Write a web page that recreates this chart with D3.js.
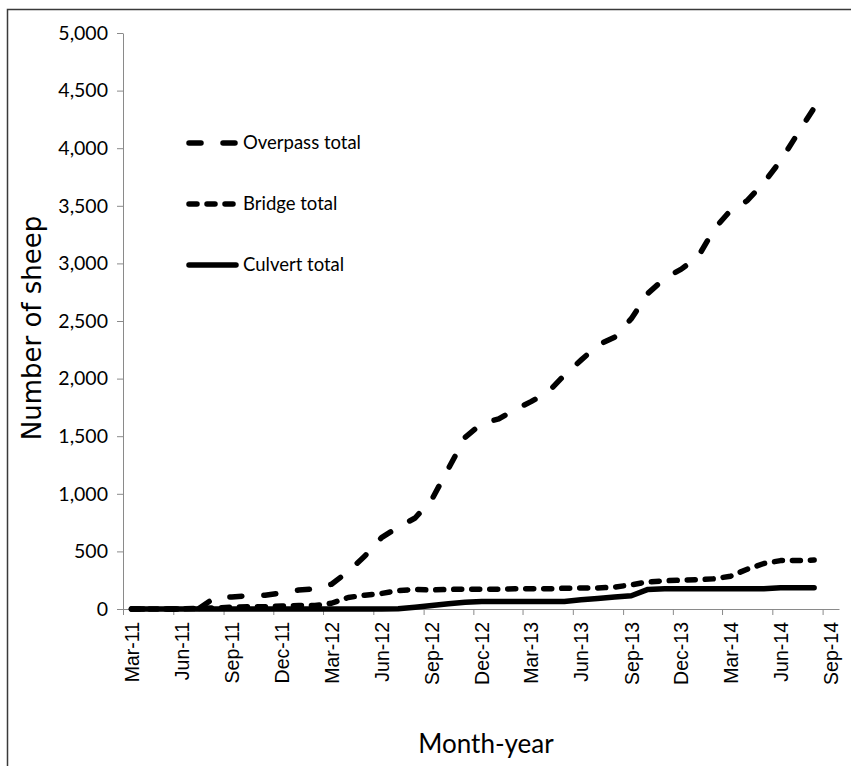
<!DOCTYPE html>
<html>
  <head>
    <meta charset="UTF-8">
    <title>Sheep crossings</title>
    <style>
      body {margin: 0; background: #fff}
      svg {display: block}
      .tick line {stroke: #8a8a8a}
      .domain {stroke: #8a8a8a}
    </style>
  </head>
  <body>
    <div id="chart"></div>
    <script src="https://cdnjs.cloudflare.com/ajax/libs/d3/7.8.5/d3.min.js"></script>
    <script>
      // monthly cumulative totals, Mar-11 .. Aug-14
      const months = [
        "Mar-11","Apr-11","May-11","Jun-11","Jul-11","Aug-11","Sep-11","Oct-11","Nov-11","Dec-11",
        "Jan-12","Feb-12","Mar-12","Apr-12","May-12","Jun-12","Jul-12","Aug-12","Sep-12","Oct-12","Nov-12","Dec-12",
        "Jan-13","Feb-13","Mar-13","Apr-13","May-13","Jun-13","Jul-13","Aug-13","Sep-13","Oct-13","Nov-13","Dec-13",
        "Jan-14","Feb-14","Mar-14","Apr-14","May-14","Jun-14","Jul-14","Aug-14"
      ];
      const overpass = [0,0,0,0,0,100,105,115,120,140,165,175,215,325,460,620,710,790,950,1220,1490,1610,1650,1730,1800,1880,2030,2160,2290,2360,2520,2740,2870,2950,3060,3300,3460,3545,3700,3890,4120,4350];
      const bridge = [0,0,0,0,5,10,15,20,20,25,30,30,50,100,120,135,160,170,165,170,172,172,172,175,175,175,180,182,183,190,210,235,245,250,255,262,285,345,395,420,420,425];
      const culvert = [0,0,0,0,0,0,0,0,0,0,0,0,0,0,0,0,2,15,30,45,58,65,66,66,66,66,66,80,92,105,115,170,175,175,175,175,175,175,175,185,185,185];
      const tickLabels = ["Mar-11","Jun-11","Sep-11","Dec-11","Mar-12","Jun-12","Sep-12","Dec-12","Mar-13","Jun-13","Sep-13","Dec-13","Mar-14","Jun-14","Sep-14"];
      const seriesNames = ["Overpass total", "Bridge total", "Culvert total"];
      const yTicks = [0,500,1000,1500,2000,2500,3000,3500,4000,4500,5000];

      const width = 851, height = 766;
      const parseMonth = d3.timeParse("%b-%y");

      const svg = d3.select("#chart").append("svg")
        .attr("width", width).attr("height", height);

      // frame (left + top only)
      svg.append("path")
        .attr("d", `M7.5,${height} V9.5 H${width}`)
        .attr("fill", "none").attr("stroke", "#3a3a3a").attr("stroke-width", 1.5);

      const x = d3.scaleTime()
        .domain([parseMonth("Mar-11"), parseMonth("Oct-14")])
        .range([123, 839]);
      const y = d3.scaleLinear().domain([0, 5000]).range([609, 33]);

      // points sit in the middle of their month
      const midMonth = s => {
        const d = parseMonth(s);
        return new Date((+d + +d3.timeMonth.offset(d, 1)) / 2);
      };

      const xAxis = d3.axisBottom(x)
        .tickValues(tickLabels.map(parseMonth))
        .tickFormat((d, i) => tickLabels[i])
        .tickSizeOuter(0).tickSizeInner(6);

      const gx = svg.append("g").attr("transform", `translate(0,${y(0)})`).call(xAxis);
      gx.selectAll("text")
        .attr("font-family", "'Liberation Sans', Arial, sans-serif")
        .attr("font-size", 19.5)
        .attr("fill", "#000")
        .attr("text-anchor", "end")
        .attr("transform", "rotate(-90)")
        .attr("x", -13).attr("y", 15).attr("dy", null);

      const yAxis = d3.axisLeft(y).tickValues(yTicks).tickFormat(d3.format(","))
        .tickSizeOuter(0).tickSizeInner(6).tickPadding(9);
      const gy = svg.append("g").attr("transform", `translate(${x.range()[0]},0)`).call(yAxis);
      gy.selectAll("text")
        .attr("font-family", "Lato, sans-serif")
        .attr("font-size", 19.5)
        .attr("fill", "#000");

      // series
      const series = [
        {name: seriesNames[0], values: overpass, dash: "12,22"},
        {name: seriesNames[1], values: bridge, dash: "8,10"},
        {name: seriesNames[2], values: culvert, dash: null}
      ];

      const line = d3.line()
        .x((d, i) => x(midMonth(months[i])))
        .y(d => y(d));

      svg.selectAll(".series").data(series.slice().reverse()).join("path")
        .attr("class", "series")
        .attr("d", d => line(d.values))
        .attr("fill", "none")
        .attr("stroke", "#000")
        .attr("stroke-width", 5.5)
        .attr("stroke-linecap", "round")
        .attr("stroke-linejoin", "round")
        .attr("stroke-dasharray", d => d.dash);

      // legend
      const legendY = d3.scalePoint().domain(seriesNames).range([143, 265]);
      const lg = svg.selectAll(".legend").data(series).join("g")
        .attr("class", "legend")
        .attr("transform", d => `translate(189,${legendY(d.name)})`);
      lg.append("line")
        .attr("x1", 0).attr("x2", 47)
        .attr("stroke", "#000").attr("stroke-width", 5.5)
        .attr("stroke-linecap", "round")
        .attr("stroke-dasharray", d => d.dash);
      lg.append("text")
        .attr("x", 54).attr("dy", "0.35em")
        .attr("font-family", "Lato, sans-serif")
        .attr("font-size", 18.5)
        .attr("fill", "#000")
        .text(d => d.name);

      // axis titles
      svg.append("text")
        .attr("transform", `translate(41,328) rotate(-90)`)
        .attr("text-anchor", "middle")
        .attr("font-family", "'DejaVu Sans', sans-serif")
        .attr("font-size", 26)
        .attr("fill", "#000")
        .text("Number of sheep");

      svg.append("text")
        .attr("x", 486).attr("y", 753)
        .attr("text-anchor", "middle")
        .attr("font-family", "Lato, sans-serif")
        .attr("font-size", 26)
        .attr("fill", "#000")
        .text("Month-year");
    </script>
  </body>
</html>
